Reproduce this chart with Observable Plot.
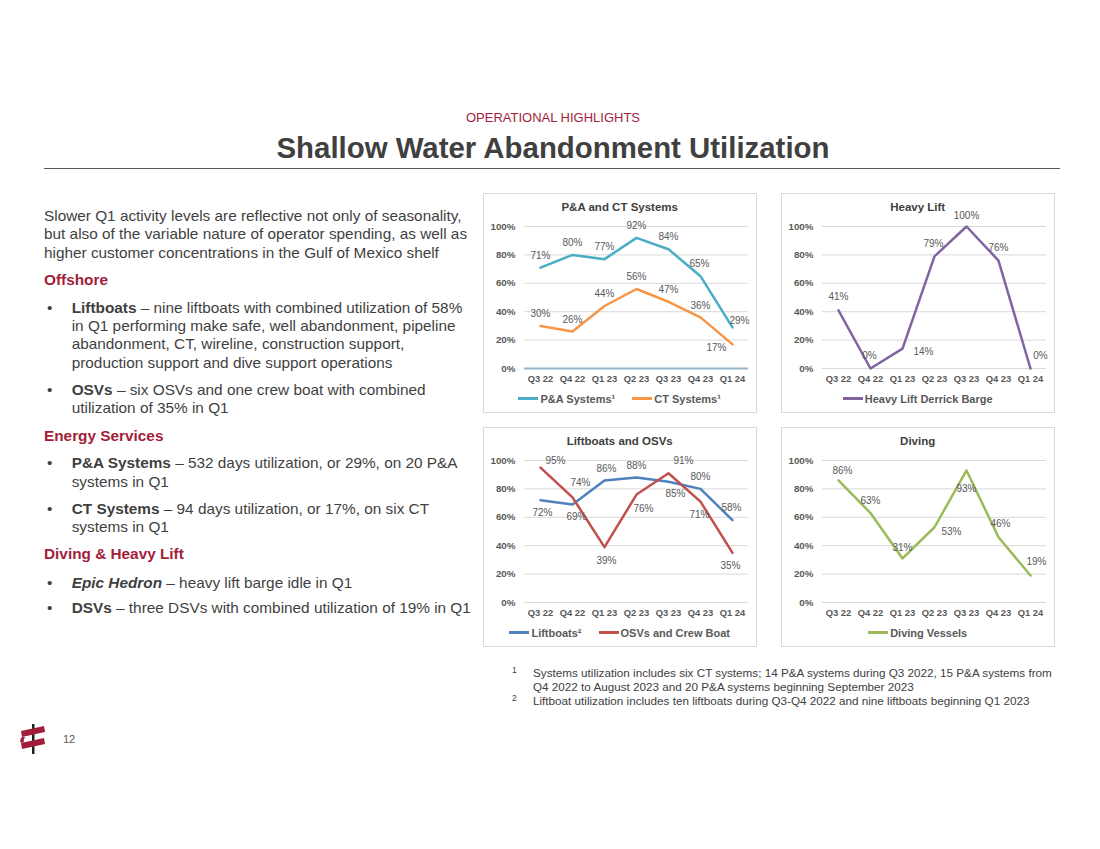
<!DOCTYPE html>
<html><head><meta charset="utf-8">
<script src="https://cdn.jsdelivr.net/npm/d3@7"></script>
<script src="https://cdn.jsdelivr.net/npm/@observablehq/plot@0.6"></script>
<style>
body{margin:0;background:#fff;font-family:Arial,"Liberation Sans",sans-serif;}
#page{position:relative;width:1100px;height:849px;overflow:hidden;background:#fff;}
.abs{position:absolute;}
.kicker{left:0;width:1106px;top:110px;text-align:center;font-size:13px;color:#a21d3a;line-height:16px;}
.title{left:0;width:1106px;top:130px;text-align:center;font-size:29.4px;font-weight:bold;color:#404040;line-height:36px;}
.rule{left:44px;width:1016px;top:168px;height:0;border-top:1.5px solid #595959;}
.blk{left:44px;font-size:15.35px;line-height:18.4px;color:#3f3f3f;white-space:nowrap;}
.hd{color:#a21d3a;font-weight:bold;}
.bul{left:44px;font-size:15.35px;line-height:18.4px;color:#3f3f3f;white-space:nowrap;}
.bul .dot{position:absolute;left:3px;top:0;}
.bul .txt{position:absolute;left:27.7px;top:0;}
.box{width:274px;height:220px;}
.frame{position:absolute;left:0;top:0;width:274px;height:220px;box-sizing:border-box;border:1px solid #d9d9d9;}
.ctitle{position:absolute;left:0;top:6px;width:274px;text-align:center;font-size:11.5px;font-weight:bold;color:#404040;line-height:16px;}
.legend{position:absolute;left:0;top:197px;width:274px;height:18px;display:flex;justify-content:center;align-items:center;gap:17px;font-size:11px;font-weight:bold;color:#595959;}
.legend .it{display:flex;align-items:center;}
.legend .sw{display:inline-block;width:20px;height:3px;margin-right:2px;}
.fn{left:512px;font-size:11.7px;line-height:13.5px;color:#404040;white-space:nowrap;}
.fn .m{position:absolute;left:0;top:-2px;font-size:8.5px;}
.fn .t{position:absolute;left:21px;top:0;}
.pg{left:63px;top:733px;font-size:11px;color:#595959;}
</style></head>
<body><div id="page">
<div class="abs kicker">OPERATIONAL HIGHLIGHTS</div>
<div class="abs title">Shallow Water Abandonment Utilization</div>
<div class="abs rule"></div>

<div class="abs blk" style="top:206.8px">Slower Q1 activity levels are reflective not only of seasonality,<br>but also of the variable nature of operator spending, as well as<br>higher customer concentrations in the Gulf of Mexico shelf</div>
<div class="abs blk hd" style="top:270.8px">Offshore</div>
<div class="abs bul" style="top:298.5px"><span class="dot">•</span><span class="txt"><b>Liftboats</b> – nine liftboats with combined utilization of 58%<br>in Q1 performing make safe, well abandonment, pipeline<br>abandonment, CT, wireline, construction support,<br>production support and dive support operations</span></div>
<div class="abs bul" style="top:380.8px"><span class="dot">•</span><span class="txt"><b>OSVs</b> – six OSVs and one crew boat with combined<br>utilization of 35% in Q1</span></div>
<div class="abs blk hd" style="top:426.5px">Energy Services</div>
<div class="abs bul" style="top:454.1px"><span class="dot">•</span><span class="txt"><b>P&amp;A Systems</b> – 532 days utilization, or 29%, on 20 P&amp;A<br>systems in Q1</span></div>
<div class="abs bul" style="top:499.8px"><span class="dot">•</span><span class="txt"><b>CT Systems</b> – 94 days utilization, or 17%, on six CT<br>systems in Q1</span></div>
<div class="abs blk hd" style="top:544.8px">Diving &amp; Heavy Lift</div>
<div class="abs bul" style="top:573.5px"><span class="dot">•</span><span class="txt"><b><i>Epic Hedron</i></b> – heavy lift barge idle in Q1</span></div>
<div class="abs bul" style="top:599.1px"><span class="dot">•</span><span class="txt"><b>DSVs</b> – three DSVs with combined utilization of 19% in Q1</span></div>

<div class="abs fn" style="top:666px"><span class="m">1</span><span class="t">Systems utilization includes six CT systems; 14 P&amp;A systems during Q3 2022, 15 P&amp;A systems from</span></div>
<div class="abs fn" style="top:680px"><span class="t">Q4 2022 to August 2023 and 20 P&amp;A systems beginning September 2023</span></div>
<div class="abs fn" style="top:693.5px"><span class="m">2</span><span class="t">Liftboat utilization includes ten liftboats during Q3-Q4 2022 and nine liftboats beginning Q1 2023</span></div>

<svg class="abs" style="left:18px;top:722px" width="32" height="34" viewBox="0 0 32 34">
  <rect x="14" y="2" width="2.5" height="30" fill="#222"/>
  <path d="M3 9 L26 4 L27 10 L4 15 Z" fill="#a21d3a"/>
  <path d="M3 21 L26 16 L27 22 L4 27 Z" fill="#a21d3a"/>
  <path d="M4 15 Q1 18 3 21 L6 20 Q5 18 7 15 Z" fill="#a21d3a"/>
</svg>
<div class="abs pg">12</div>
</div>

<script>
// ---------- data ----------
const quarters = ["Q3 22","Q4 22","Q1 23","Q2 23","Q3 23","Q4 23","Q1 24"];
const yTicks = [0, 0.2, 0.4, 0.6, 0.8, 1];

const paSystems = [0.71, 0.80, 0.77, 0.92, 0.84, 0.65, 0.29];
const ctSystems = [0.30, 0.26, 0.44, 0.56, 0.47, 0.36, 0.17];
const heavyLift = [0.41, 0.00, 0.14, 0.79, 1.00, 0.76, 0.00];
const liftboats = [0.72, 0.69, 0.86, 0.88, 0.85, 0.80, 0.58];
const osvs      = [0.95, 0.74, 0.39, 0.76, 0.91, 0.71, 0.35];
const diving    = [0.86, 0.63, 0.31, 0.53, 0.93, 0.46, 0.19];

const chartTitles = ["P&A and CT Systems", "Heavy Lift", "Liftboats and OSVs", "Diving"];
const seriesNames = {
  pa: "P&A Systems¹", ct: "CT Systems¹", hl: "Heavy Lift Derrick Barge",
  lb: "Liftboats²", osv: "OSVs and Crew Boat", dv: "Diving Vessels"
};

// ---------- layout / style (label placement offsets in px) ----------
const labelOffsets = {
  pa:  [[0,-12],[0,-12],[0,-12],[0,-12],[0,-12],[-1,-12],[7,-7]],
  ct:  [[0,-12],[0,-12],[0,-12],[0,-12],[0,-12],[0,-12],[-16,3]],
  hl:  [[0,-13],[-1,-13],[21,3],[-1,-13],[0,-11],[0,-13],[10,-13]],
  lb:  [[2,13],[4,12],[2,-12],[0,-12],[7,12],[0,-12],[-1,-12]],
  osv: [[15,-7],[8,-15],[2,14],[7,14],[15,-12],[-1,13],[-2,13]],
  dv:  [[4,-10],[0,-12],[0,-11],[17,5],[0,18],[2,-13],[6,-14]]
};
const colors = {pa:"#4bacc6", ct:"#f79646", hl:"#8064a2", lb:"#4f81bd", osv:"#c0504d", dv:"#9bbb59"};

const pct = d3.format(".0%");

function makePlot(series, baseline) {
  const marks = [Plot.gridY(yTicks, {stroke: "#d9d9d9", strokeOpacity: 1, strokeWidth: 1})];
  if (baseline) marks.push(Plot.ruleY([0], {stroke: baseline, strokeWidth: 2}));
  marks.push(Plot.axisY(yTicks, {tickFormat: pct, tickSize: 0, tickPadding: 9, fontWeight: "bold", fontSize: 9.8, label: null}));
  marks.push(Plot.axisX({tickSize: 0, tickPadding: 7, fontWeight: "bold", fontSize: 9.4, label: null}));
  for (const s of series) {
    const rows = quarters.map((q, i) => ({q, v: s.values[i]}));
    marks.push(Plot.line(rows, {x: "q", y: "v", stroke: colors[s.key], strokeWidth: 2.5, strokeLinejoin: "round"}));
  }
  for (const s of series) {
    quarters.forEach((q, i) => {
      const [dx, dy] = labelOffsets[s.key][i];
      marks.push(Plot.text([{q, v: s.values[i]}], {x: "q", y: "v", text: d => pct(d.v), dx, dy, fill: "#595959", fontSize: 10}));
    });
  }
  return Plot.plot({
    width: 274, height: 175,
    marginTop: 13, marginBottom: 20, marginLeft: 41, marginRight: 9,
    x: {type: "point", domain: quarters, padding: 0.5},
    y: {domain: [0, 1]},
    style: {fontFamily: "Arial, 'Liberation Sans', sans-serif", color: "#595959", background: "transparent", overflow: "visible"},
    marks
  });
}

const boxes = [
  {left: 482.7, top: 192.7, title: chartTitles[0], series: [{key:"pa", values: paSystems},{key:"ct", values: ctSystems}], baseline: "#94b5c8"},
  {left: 780.7, top: 192.7, title: chartTitles[1], series: [{key:"hl", values: heavyLift}]},
  {left: 482.7, top: 426.7, title: chartTitles[2], series: [{key:"lb", values: liftboats},{key:"osv", values: osvs}]},
  {left: 780.7, top: 426.7, title: chartTitles[3], series: [{key:"dv", values: diving}]}
];

const host = document.getElementById("page");
for (const b of boxes) {
  const w = document.createElement("div");
  w.className = "abs box";
  w.style.left = b.left + "px";
  w.style.top = b.top + "px";
  const fr = document.createElement("div"); fr.className = "frame"; w.appendChild(fr);
  const t = document.createElement("div"); t.className = "ctitle"; t.textContent = b.title; w.appendChild(t);
  const p = makePlot(b.series, b.baseline);
  p.style.position = "absolute"; p.style.left = "0px"; p.style.top = "20px";
  w.appendChild(p);
  const lg = document.createElement("div"); lg.className = "legend";
  for (const s of b.series) {
    const it = document.createElement("span"); it.className = "it";
    const sw = document.createElement("span"); sw.className = "sw"; sw.style.background = colors[s.key];
    const tx = document.createElement("span"); tx.textContent = seriesNames[s.key];
    it.appendChild(sw); it.appendChild(tx); lg.appendChild(it);
  }
  w.appendChild(lg);
  host.appendChild(w);
}
</script>
</body></html>
